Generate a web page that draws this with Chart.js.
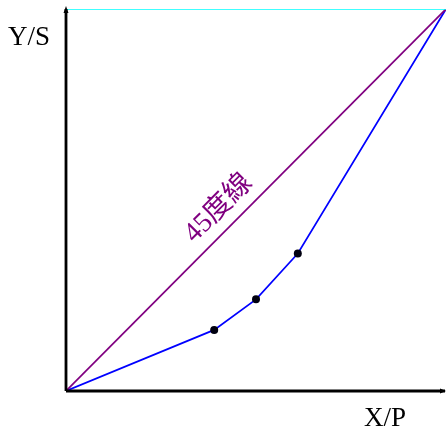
<!DOCTYPE html>
<html>
<head>
<meta charset="utf-8">
<script src="https://cdn.jsdelivr.net/npm/chart.js@4/dist/chart.umd.min.js"></script>
<style>
  html, body { margin: 0; padding: 0; background: #fff; }
  #wrap { width: 446px; height: 434px; }
</style>
</head>
<body>
<div id="wrap"><canvas id="chart"></canvas></div>
<script>
// ローレンツ曲線のデータ (X/P 累積人口比, Y/S 累積所得比)
const cumPop = [0, 39, 50, 61, 100];
const cumIncome = [0, 16, 24, 36, 100];
const equalityX = [0, 100];
const equalityY = [0, 100];
const topX = [0, 100];
const topY = [100, 100];
const axisLabelX = 'X/P';
const axisLabelY = 'Y/S';
const diagLabel = '45度線';

const toPoints = (xs, ys) => xs.map((x, i) => ({ x: x, y: ys[i] }));

// 軸・矢印・ラベルを描く
const decor = {
    id: 'decor',
    afterDatasetsDraw(chart) {
        const c = chart.ctx;
        const a = chart.chartArea;
        const xs = chart.scales.x, ys = chart.scales.y;
        c.save();
        c.strokeStyle = '#000';
        c.fillStyle = '#000';
        c.lineWidth = 2.8;
        c.beginPath();
        c.moveTo(a.left, a.bottom);
        c.lineTo(a.left, a.top);
        c.moveTo(a.left, a.bottom);
        c.lineTo(a.right - 1, a.bottom);
        c.stroke();
        // 矢印
        c.beginPath();
        c.moveTo(a.left, a.top - 3);
        c.lineTo(a.left - 2.5, a.top + 4);
        c.lineTo(a.left + 2.5, a.top + 4);
        c.closePath();
        c.fill();
        c.beginPath();
        c.moveTo(a.right, a.bottom);
        c.lineTo(a.right - 6, a.bottom - 2.5);
        c.lineTo(a.right - 6, a.bottom + 2.5);
        c.closePath();
        c.fill();

        c.font = '27px "Liberation Serif", "Times New Roman", serif';
        c.textAlign = 'center';
        c.textBaseline = 'middle';
        c.fillText(axisLabelY, a.left - 37, a.top + 29);
        c.fillText(axisLabelX, a.right - 61, a.bottom + 28);

        // 45度線ラベル
        const px = xs.getPixelForValue(44), py = ys.getPixelForValue(44);
        const ang = Math.atan2(ys.getPixelForValue(100) - ys.getPixelForValue(0),
                               xs.getPixelForValue(100) - xs.getPixelForValue(0));
        c.translate(px, py);
        c.rotate(ang);
        c.fillStyle = '#800080';
        c.font = '28px "Liberation Serif", "Noto Sans CJK TC", serif';
        c.textBaseline = 'alphabetic';
        c.fillText(diagLabel, 0, -13);
        c.restore();
    }
};

new Chart(document.getElementById('chart'), {
    type: 'scatter',
    data: {
        datasets: [
            {
                data: toPoints(topX, topY),
                showLine: true,
                borderColor: '#00ffff',
                borderWidth: 1.5,
                pointRadius: 0
            },
            {
                data: toPoints(equalityX, equalityY),
                showLine: true,
                borderColor: '#800080',
                borderWidth: 1.7,
                pointRadius: 0
            },
            {
                data: toPoints(cumPop, cumIncome),
                showLine: true,
                borderColor: '#0000ff',
                borderWidth: 1.7,
                pointRadius: ctx => (ctx.dataIndex === 0 || ctx.dataIndex === cumPop.length - 1) ? 0 : 4,
                pointBackgroundColor: '#000010',
                pointBorderColor: '#000010',
                pointBorderWidth: 0
            }
        ]
    },
    options: {
        responsive: true,
        maintainAspectRatio: false,
        animation: false,
        layout: { padding: { left: 66, top: 9, right: 0, bottom: 43 } },
        scales: {
            x: { type: 'linear', min: 0, max: 100, display: false },
            y: { type: 'linear', min: 0, max: 100, display: false }
        },
        plugins: {
            legend: { display: false },
            tooltip: { enabled: false }
        }
    },
    plugins: [decor]
});
</script>
</body>
</html>
